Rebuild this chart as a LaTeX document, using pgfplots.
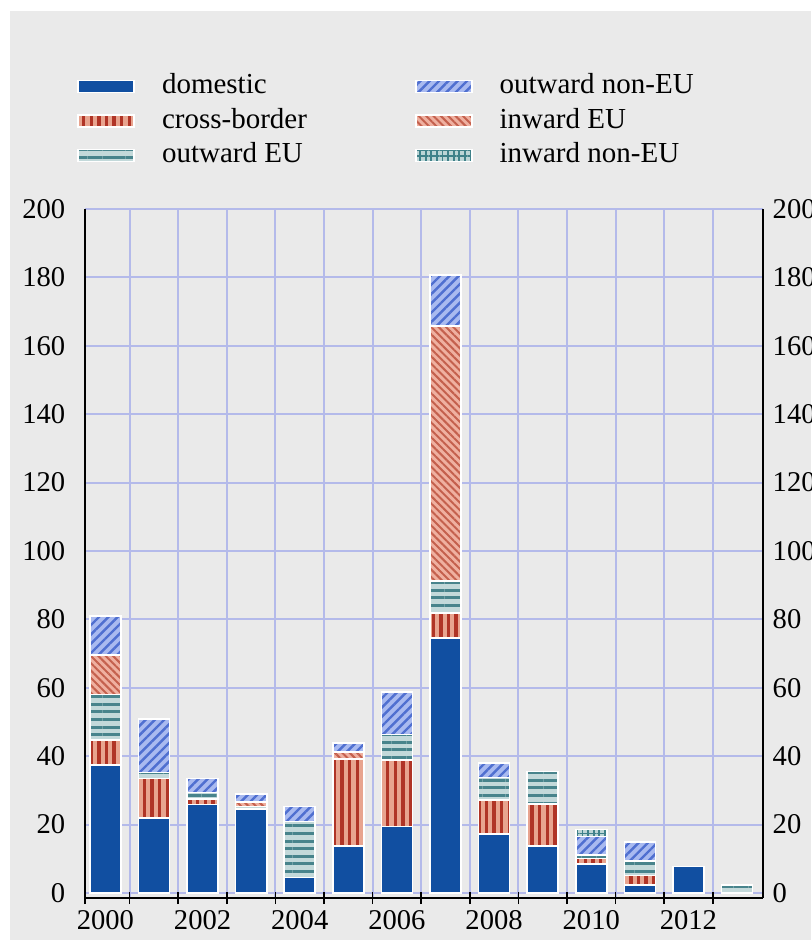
\documentclass[border=0pt]{standalone}
\usepackage{fontspec}
\setmainfont{Liberation Serif}
\usepackage{pgfplots}
\usepackage{pgfplotstable}
\pgfplotsset{compat=1.18}
\usetikzlibrary{patterns.meta}

\definecolor{bgc}{RGB}{234,234,234}
\definecolor{gridc}{RGB}{180,186,234}
\definecolor{domc}{RGB}{17,79,161}
\definecolor{cbd}{RGB}{176,52,38}
\definecolor{cbl}{RGB}{232,164,143}
\definecolor{oeud}{RGB}{72,132,140}
\definecolor{oeul}{RGB}{195,217,218}
\definecolor{oneud}{RGB}{79,111,208}
\definecolor{oneul}{RGB}{169,186,240}
\definecolor{ieud}{RGB}{196,96,77}
\definecolor{ieul}{RGB}{239,176,160}
\definecolor{ineud}{RGB}{63,129,137}
\definecolor{ineul}{RGB}{188,213,214}

\pgfplotstableread{
x dom cb oeu ieu oneu ineu
0 37.5 7.2 13.4 11.5 11.4 0
1 22.0 11.5 1.7 0 15.6 0
2 25.9 1.6 1.9 0 4.1 0
3 24.5 0 0.8 1.3 2.4 0
4 4.5 0 16.4 0 4.4 0
5 13.8 25.3 0 2.2 2.6 0
6 19.4 19.5 7.4 0 12.4 0
7 74.5 7.3 9.4 74.6 14.9 0
8 17.3 9.9 6.6 0 4.3 0
9 13.8 12.2 9.5 0 0 0
10 8.5 1.6 1.0 0 5.4 2.1
11 2.3 2.8 4.3 0 5.6 0
12 7.7 0 0 0 0 0
13 0 0 2.4 0 0 0
}\data

\pgfplotsset{
  sdom/.style={fill=domc, draw=white, line width=0.8pt},
  scb/.style={fill=cbl, draw=white, line width=0.8pt,
    postaction={pattern={Lines[angle=90,distance=3.8pt,line width=1.7pt]}, pattern color=cbd}},
  soeu/.style={fill=oeul, draw=white, line width=0.8pt,
    postaction={pattern={Lines[angle=0,distance=3.8pt,line width=1.5pt]}, pattern color=oeud}},
  soneu/.style={fill=oneul, draw=white, line width=0.8pt,
    postaction={pattern={Lines[angle=45,distance=3.3pt,line width=1.2pt]}, pattern color=oneud}},
  sieu/.style={fill=ieul, draw=white, line width=0.8pt,
    postaction={pattern={Lines[angle=-45,distance=2.6pt,line width=1pt]}, pattern color=ieud}},
  sineu/.style={fill=ineul, draw=white, line width=0.8pt,
    postaction={pattern={Hatch[angle=0,distance=2.8pt,line width=0.9pt]}, pattern color=ineud}},
}

\begin{document}
\fontsize{14pt}{16pt}\selectfont
\begin{tikzpicture}
\useasboundingbox (-42.5pt,-21pt) rectangle (363pt,449pt);
\clip (-42.5pt,-21pt) rectangle (363pt,449pt);
\fill[white] (-42.5pt,-21pt) rectangle (363pt,449pt);
\fill[bgc] (-37.5pt,-21pt) rectangle (363pt,443.5pt);
\begin{axis}[
  scale only axis, width=339pt, height=344.5pt,
  xmin=-0.42, xmax=13.535, ymin=-1.46, ymax=200,
  axis x line*=bottom, axis y line*=left,
  axis line style={black, line width=1pt},
  ybar stacked, bar width=0.64,
  xtick={0,2,...,12},
  xticklabels={2000,2002,2004,2006,2008,2010,2012},
  minor xtick={-0.42,0.5,1.5,...,12.5},
  major tick length=0pt, minor tick length=6pt, tick align=center,
  minor tick style={black, line width=0.8pt},
  xminorgrids=true, minor x grid style={gridc, line width=1pt},
  ytick={0,20,...,200}, ymajorgrids=true,
  major y grid style={gridc, line width=1pt},
  /pgf/number format/assume math mode=true,
  tick label style={font=\rmfamily\fontsize{14.3pt}{16pt}\selectfont, text=black},
  yticklabel style={xshift=-5pt},
  xticklabel style={yshift=-1.5pt},
  legend columns=2,
  legend cell align=left,
  legend image code/.code={\draw[#1] (0pt,-3pt) rectangle (28pt,3pt);},
  legend style={at={(axis description cs:-0.0118,1.197)}, anchor=north west,
    draw=none, fill=none, inner sep=0pt, row sep=4.25pt, column sep=13.5pt,
    font=\rmfamily\fontsize{14.5pt}{16pt}\selectfont,
    nodes={inner sep=0pt, text height=10pt, text depth=3pt}},
]
\addplot[sdom, forget plot] table[x=x, y=dom] {\data};
\addplot[scb, forget plot] table[x=x, y=cb] {\data};
\addplot[soeu, forget plot] table[x=x, y=oeu] {\data};
\addplot[sieu, forget plot] table[x=x, y=ieu] {\data};
\addplot[soneu, forget plot] table[x=x, y=oneu] {\data};
\addplot[sineu, forget plot] table[x=x, y=ineu] {\data};
\addlegendimage{sdom}
\addlegendentry{\makebox[113pt][l]{domestic}}
\addlegendimage{soneu}
\addlegendentry{outward non-EU}
\addlegendimage{scb}
\addlegendentry{\makebox[113pt][l]{cross-border}}
\addlegendimage{sieu}
\addlegendentry{inward EU}
\addlegendimage{soeu}
\addlegendentry{\makebox[113pt][l]{outward EU}}
\addlegendimage{sineu}
\addlegendentry{inward non-EU}
\end{axis}
\begin{axis}[
  scale only axis, width=339pt, height=344.5pt,
  xmin=-0.42, xmax=13.535, ymin=-1.46, ymax=200,
  axis x line=none, axis y line*=right,
  axis line style={black, line width=1pt},
  ytick={0,20,...,200}, major tick length=0pt,
  /pgf/number format/assume math mode=true,
  tick label style={font=\rmfamily\fontsize{14.3pt}{16pt}\selectfont, text=black},
]
\addplot[draw=none] coordinates {(0,0)};
\end{axis}
\end{tikzpicture}
\end{document}
